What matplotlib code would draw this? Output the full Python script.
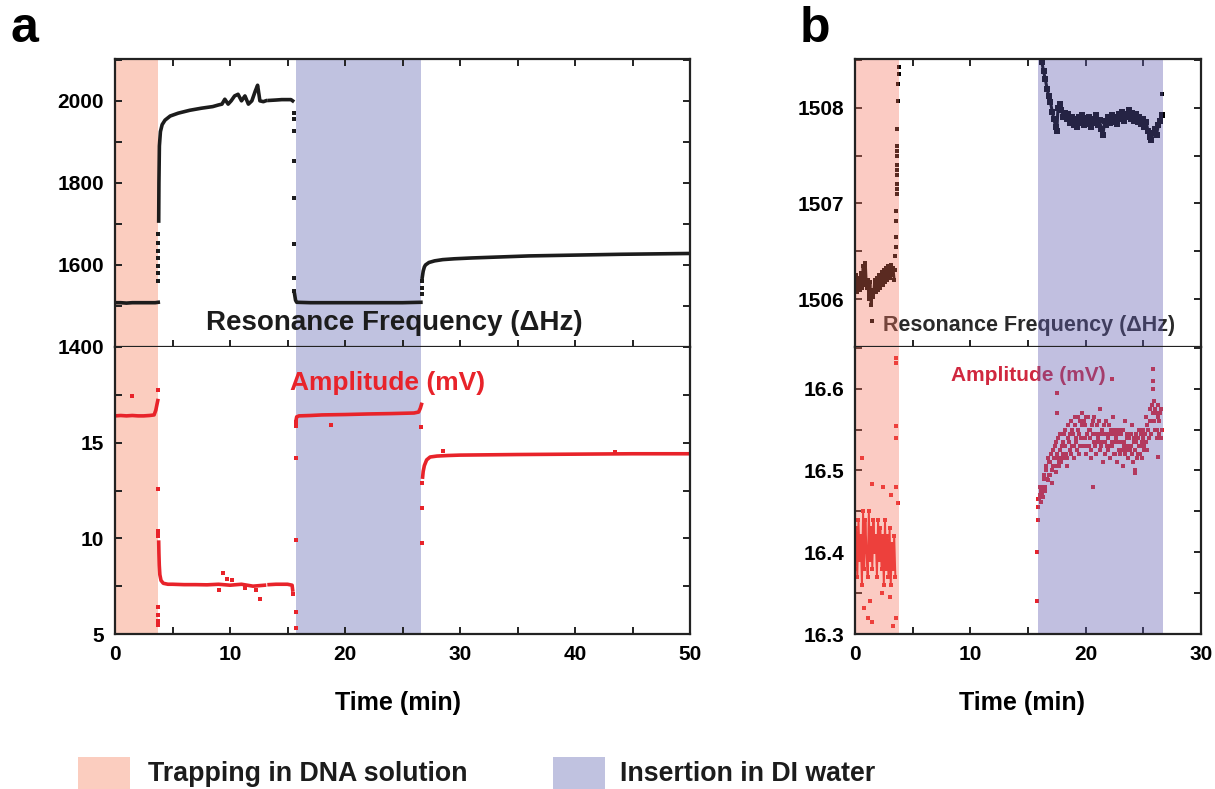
import matplotlib
matplotlib.use('Agg')
import matplotlib.pyplot as plt
from matplotlib.patches import Rectangle
from matplotlib.ticker import MultipleLocator

plt.rcParams['font.family'] = ['Liberation Sans', 'DejaVu Sans']
plt.rcParams['font.weight'] = 'bold'

# ---- shaded intervals (min) ----
a_trap = [0, 3.75]
a_water = [15.75, 26.6]
b_trap = [0, 3.8]
b_water = [15.9, 26.7]

# ---- panel a : resonance frequency (Hz) ----
a_f_base_t = [0, 0.5, 1.0, 1.5, 2.0, 2.5, 3.0, 3.5, 3.76]
a_f_base = [1508, 1508, 1507, 1508, 1508, 1508, 1508, 1508, 1509]
a_f_up_t = [3.78, 3.78, 3.78, 3.78, 3.78, 3.78, 3.78]
a_f_up = [1561, 1580, 1598, 1617, 1634, 1654, 1676]
a_f_rise_t = [3.8, 3.82, 3.86, 3.95, 4.1, 4.35, 4.8, 5.5, 6.5, 7.5,
              8.5, 9.0, 9.3, 9.55, 9.84, 10.1, 10.4, 10.7, 11.0, 11.3,
              11.6, 11.9, 12.2, 12.4, 12.6, 12.9, 13.1]
a_f_rise = [1707, 1800, 1890, 1925, 1942, 1953, 1963, 1970, 1977, 1982,
            1986, 1990, 1992, 2004, 1992, 2000, 2012, 2016, 2000, 2012,
            1992, 2000, 2024, 2038, 2000, 1998, 2000]
a_f_plat_t = [13.4, 14.0, 14.5, 15.0, 15.3, 15.45]
a_f_plat = [2001, 2002, 2003, 2003, 2003, 2000]
a_f_down_t = [15.55, 15.55, 15.56, 15.56, 15.57, 15.57, 15.58, 15.58]
a_f_down = [1971, 1956, 1927, 1854, 1763, 1651, 1568, 1537]
a_f_water_t = [15.62, 15.7, 15.8, 17, 19, 21, 23, 25, 26.6]
a_f_water = [1528, 1514, 1509, 1508, 1508, 1508, 1508, 1508, 1509]
a_f_up2_t = [26.7, 26.7, 26.7]
a_f_up2 = [1529, 1544, 1561]
a_f_tail_t = [26.72, 26.8, 26.9, 27.0, 27.3, 27.8, 28.5, 29.5, 31, 33, 36, 40, 44, 47, 50]
a_f_tail = [1570, 1585, 1595, 1600, 1606, 1610, 1613, 1615, 1617, 1619, 1622, 1624, 1626, 1627, 1628]

# ---- panel a : amplitude (mV) ----
a_a_base_t = [0, 0.5, 1.0, 1.5, 2.0, 2.5, 3.0, 3.4, 3.55, 3.65, 3.72]
a_a_base = [16.4, 16.42, 16.4, 16.42, 16.4, 16.4, 16.42, 16.45, 16.7, 17.0, 17.2]
a_a_drop_t = [3.78, 3.78, 3.78, 3.78, 3.77, 3.77, 3.77, 3.77]
a_a_drop = [12.6, 10.4, 10.25, 10.1, 6.4, 6.0, 5.7, 5.45]
a_a_low_t = [3.8, 3.82, 3.85, 3.9, 4.0, 4.2, 4.6, 5, 6, 7, 8, 9, 10, 11, 12, 13.0]
a_a_low = [9.8, 9.2, 8.6, 8.1, 7.8, 7.65, 7.6, 7.6, 7.58, 7.58, 7.57, 7.6, 7.55, 7.6, 7.5, 7.55]
a_a_low2_t = [13.4, 14, 15, 15.4, 15.45]
a_a_low2 = [7.58, 7.6, 7.6, 7.55, 7.3]
a_a_rise_t = [15.7, 15.7, 15.7, 15.7, 15.72, 15.72]
a_a_rise = [6.17, 5.3, 9.92, 14.2, 15.85, 16.1]
a_a_water_t = [15.75, 15.8, 16, 17, 18, 20, 22, 24, 26, 26.4, 26.55, 26.65]
a_a_water = [16.2, 16.35, 16.4, 16.42, 16.45, 16.47, 16.5, 16.52, 16.55, 16.6, 16.8, 17.0]
a_a_drop2_t = [26.7, 26.7, 26.7, 26.6]
a_a_drop2 = [9.75, 11.6, 12.9, 15.8]
a_a_tail_t = [26.75, 26.8, 26.9, 27.1, 27.4, 28, 29, 30, 35, 40, 45, 50]
a_a_tail = [13.2, 13.5, 13.8, 14.1, 14.25, 14.3, 14.33, 14.35, 14.38, 14.4, 14.42, 14.42]
a_a_out_t = [1.45, 3.72, 9.0, 9.4, 9.7, 10.2, 11.3, 12.3, 12.6, 15.5, 18.8, 28.5, 43.5]
a_a_out = [17.46, 17.77, 7.3, 8.2, 7.9, 7.8, 7.4, 7.3, 6.83, 7.1, 15.94, 14.55, 14.5]

# ---- panel b : resonance frequency (Hz) ----
b_f_trap_t = [0.0, 0.1, 0.2, 0.3, 0.4, 0.5, 0.6, 0.7, 0.8, 0.9,
              1.0, 1.1, 1.2, 1.3, 1.4, 1.5, 1.6, 1.7, 1.8, 1.9,
              2.0, 2.1, 2.2, 2.3, 2.4, 2.5, 2.6, 2.7, 2.8, 2.9,
              3.0, 3.1, 3.2, 3.3, 3.4]
b_f_trap = [1506.15, 1506.25, 1506.08, 1506.22, 1506.10, 1506.27, 1506.12, 1506.35, 1506.15, 1506.38,
            1506.12, 1506.2, 1506.0, 1506.18, 1505.94, 1506.1, 1506.02, 1506.2, 1506.08, 1506.22,
            1506.1, 1506.25, 1506.12, 1506.28, 1506.15, 1506.3, 1506.18, 1506.33, 1506.2, 1506.35,
            1506.22, 1506.36, 1506.25, 1506.33, 1506.2]
b_f_jump_t = [3.45, 3.5, 3.52, 3.54, 3.56, 3.58, 3.6, 3.6, 3.6, 3.6,
              3.6, 3.6, 3.62, 3.62, 3.62, 3.65, 3.7, 3.75, 3.78, 3.8]
b_f_jump = [1506.3, 1506.45, 1506.54, 1506.65, 1506.82, 1506.92, 1507.1, 1507.2, 1507.3, 1507.4,
            1507.5, 1507.6, 1507.15, 1507.35, 1507.55, 1507.78, 1508.07, 1508.25, 1508.35, 1508.43]
b_f_water_t = [16.2, 16.35, 16.5, 16.65, 16.8, 16.95, 17.1, 17.25, 17.4, 17.5,
               17.6, 17.75, 17.9, 18.05, 18.2, 18.35, 18.5, 18.65, 18.8, 18.95,
               19.1, 19.25, 19.4, 19.55, 19.7, 19.85, 20.0, 20.15, 20.3, 20.45,
               20.6, 20.75, 20.9, 21.05, 21.2, 21.35, 21.5, 21.65, 21.8, 21.95,
               22.1, 22.25, 22.4, 22.55, 22.7, 22.85, 23.0, 23.15, 23.3, 23.45,
               23.6, 23.75, 23.9, 24.05, 24.2, 24.35, 24.5, 24.65, 24.8, 24.95,
               25.1, 25.25, 25.4, 25.55, 25.7, 25.85, 26.0, 26.15, 26.3, 26.45, 26.6]
b_f_water = [1508.48, 1508.38, 1508.3, 1508.2, 1508.12, 1508.06, 1507.96, 1507.88, 1507.8, 1507.76,
             1508.0, 1508.04, 1507.98, 1507.9, 1507.95, 1507.88, 1507.94, 1507.84, 1507.9, 1507.82,
             1507.88, 1507.8, 1507.9, 1507.84, 1507.92, 1507.82, 1507.89, 1507.83, 1507.9, 1507.8,
             1507.88, 1507.84, 1507.92, 1507.82, 1507.87, 1507.78, 1507.72, 1507.86, 1507.82, 1507.9,
             1507.84, 1507.92, 1507.85, 1507.9, 1507.83, 1507.94, 1507.88, 1507.96, 1507.86, 1507.94,
             1507.9, 1507.98, 1507.88, 1507.95, 1507.86, 1507.93, 1507.85, 1507.9, 1507.83, 1507.88,
             1507.8, 1507.85, 1507.76, 1507.7, 1507.66, 1507.74, 1507.78, 1507.72, 1507.82, 1507.86, 1507.92]
b_f_out_t = [1.45, 26.6]
b_f_out = [1505.77, 1508.14]

# ---- panel b : amplitude (mV) ----
b_a_trap_t = [0.0, 0.1, 0.2, 0.3, 0.4, 0.5, 0.6, 0.7, 0.8, 0.9,
              1.0, 1.1, 1.2, 1.3, 1.4, 1.5, 1.6, 1.7, 1.8, 1.9,
              2.0, 2.1, 2.2, 2.3, 2.4, 2.5, 2.6, 2.7, 2.8, 2.9,
              3.0, 3.1, 3.2, 3.3, 3.4, 3.5]
b_a_trap = [16.38, 16.43, 16.37, 16.44, 16.39, 16.42, 16.36, 16.45, 16.38, 16.44,
            16.4, 16.37, 16.45, 16.39, 16.43, 16.38, 16.44, 16.4, 16.42, 16.37,
            16.44, 16.39, 16.43, 16.38, 16.42, 16.36, 16.44, 16.38, 16.42, 16.37,
            16.43, 16.36, 16.41, 16.38, 16.42, 16.37]
b_a_trap_out_t = [0.6, 1.45, 2.4, 3.1, 3.55, 3.75, 0.8, 1.1, 1.5, 1.3,
                  2.3, 3.0, 3.3, 3.55, 3.58, 3.58, 3.58, 3.58]
b_a_trap_out = [16.515, 16.483, 16.48, 16.47, 16.48, 16.46, 16.332, 16.32, 16.315, 16.34,
                16.35, 16.345, 16.31, 16.32, 16.638, 16.632, 16.554, 16.54]
b_a_start_t = [15.8, 15.82, 15.85, 15.87]
b_a_start = [16.34, 16.40, 16.44, 16.465]
b_a_water_t = [15.9, 16.0, 16.1, 16.2, 16.3, 16.4, 16.5, 16.6, 16.7, 16.8,
               16.9, 17.0, 17.1, 17.2, 17.3, 17.4, 17.5, 17.6, 17.7, 17.8,
               17.9, 18.0, 18.1, 18.2, 18.3, 18.4, 18.5, 18.6, 18.7, 18.8,
               18.9, 19.0, 19.1, 19.2, 19.3, 19.4, 19.5, 19.6, 19.7, 19.8,
               19.9, 20.0, 20.1, 20.2, 20.3, 20.4, 20.5, 20.6, 20.7, 20.8,
               20.9, 21.0, 21.1, 21.2, 21.3, 21.4, 21.5, 21.6, 21.7, 21.8,
               21.9, 22.0, 22.1, 22.2, 22.3, 22.4, 22.5, 22.6, 22.7, 22.8,
               22.9, 23.0, 23.1, 23.2, 23.3, 23.4, 23.5, 23.6, 23.7, 23.8,
               23.9, 24.0, 24.1, 24.2, 24.3, 24.4, 24.5, 24.6, 24.7, 24.8,
               24.9, 25.0, 25.1, 25.2, 25.3, 25.4, 25.5, 25.6, 25.7, 25.8,
               25.9, 26.0, 26.1, 26.2, 26.3, 26.4, 26.5, 26.6]
b_a_water = [16.455, 16.47, 16.462, 16.48, 16.468, 16.49, 16.475, 16.505, 16.488, 16.51,
             16.495, 16.52, 16.485, 16.505, 16.53, 16.498, 16.515, 16.54, 16.505, 16.525,
             16.51, 16.535, 16.515, 16.55, 16.52, 16.505, 16.54, 16.525, 16.56, 16.53,
             16.545, 16.515, 16.565, 16.535, 16.55, 16.52, 16.56, 16.54, 16.57, 16.53,
             16.555, 16.52, 16.545, 16.565, 16.53, 16.55, 16.515, 16.56, 16.535, 16.545,
             16.52, 16.555, 16.54, 16.575, 16.53, 16.55, 16.51, 16.545, 16.535, 16.56,
             16.525, 16.545, 16.515, 16.55, 16.53, 16.565, 16.52, 16.54, 16.51, 16.535,
             16.55, 16.52, 16.545, 16.505, 16.535, 16.56, 16.525, 16.54, 16.515, 16.545,
             16.53, 16.555, 16.51, 16.54, 16.5, 16.535, 16.52, 16.55, 16.53, 16.545,
             16.515, 16.55, 16.53, 16.565, 16.525, 16.55, 16.54, 16.575, 16.56, 16.6,
             16.585, 16.55, 16.57, 16.54, 16.565, 16.545, 16.575, 16.55]
b_a_water2_t = [15.95, 16.05, 16.15, 16.25, 16.35, 16.45, 16.55, 16.65, 16.75, 16.85,
                16.95, 17.05, 17.15, 17.25, 17.35, 17.45, 17.55, 17.65, 17.75, 17.85,
                17.95, 18.05, 18.15, 18.25, 18.35, 18.45, 18.55, 18.65, 18.75, 18.85,
                18.95, 19.05, 19.15, 19.25, 19.35, 19.45, 19.55, 19.65, 19.75, 19.85,
                19.95, 20.05, 20.15, 20.25, 20.35, 20.45, 20.55, 20.65, 20.75, 20.85,
                20.95, 21.05, 21.15, 21.25, 21.35, 21.45, 21.55, 21.65, 21.75, 21.85,
                21.95, 22.05, 22.15, 22.25, 22.35, 22.45, 22.55, 22.65, 22.75, 22.85,
                22.95, 23.05, 23.15, 23.25, 23.35, 23.45, 23.55, 23.65, 23.75, 23.85,
                23.95, 24.05, 24.15, 24.25, 24.35, 24.45, 24.55, 24.65, 24.75, 24.85,
                24.95, 25.05, 25.15, 25.25, 25.35, 25.45, 25.55, 25.65, 25.75, 25.85,
                25.95, 26.05, 26.15, 26.25, 26.35, 26.45, 26.55]
b_a_water2 = [16.465, 16.48, 16.475, 16.47, 16.495, 16.48, 16.5, 16.49, 16.515, 16.495,
              16.51, 16.5, 16.525, 16.515, 16.505, 16.535, 16.52, 16.51, 16.545, 16.515,
              16.53, 16.52, 16.545, 16.53, 16.515, 16.555, 16.535, 16.545, 16.52, 16.55,
              16.53, 16.555, 16.54, 16.525, 16.565, 16.545, 16.53, 16.555, 16.54, 16.56,
              16.54, 16.565, 16.53, 16.55, 16.54, 16.525, 16.555, 16.545, 16.565, 16.53,
              16.545, 16.535, 16.56, 16.525, 16.545, 16.535, 16.555, 16.52, 16.545, 16.53,
              16.54, 16.555, 16.53, 16.535, 16.545, 16.52, 16.55, 16.535, 16.545, 16.525,
              16.535, 16.545, 16.525, 16.55, 16.53, 16.52, 16.545, 16.53, 16.54, 16.525,
              16.545, 16.52, 16.535, 16.525, 16.545, 16.515, 16.54, 16.53, 16.52, 16.535,
              16.54, 16.525, 16.545, 16.535, 16.555, 16.54, 16.56, 16.545, 16.58, 16.57,
              16.56, 16.575, 16.55, 16.58, 16.56, 16.57, 16.54]
b_a_water_out_t = [17.5, 17.5, 17.06, 20.6, 24.3, 26.3, 22.3, 25.85, 25.85]
b_a_water_out = [16.595, 16.57, 16.485, 16.48, 16.497, 16.517, 16.612, 16.624, 16.61]

PINK = '#FBCDBF'
BLUE = '#C0C2E0'
PINK_OV = '#F6745C'
BLUE_OV = '#615CB1'
BLACK = '#1c1c1c'
RED = '#E8232A'
AXC = '#222222'

W, H = 1215, 789
fig = plt.figure(figsize=(W / 100, H / 100), dpi=100)


def box(l, t, r, b):
    return [l / W, 1 - b / H, (r - l) / W, (b - t) / H]


ax_af = fig.add_axes(box(115, 59, 690, 347))
ax_aa = fig.add_axes(box(115, 347, 690, 634))
ax_bf = fig.add_axes(box(855, 59, 1201, 347))
ax_ba = fig.add_axes(box(855, 347, 1201, 634))


def style(ax, top_panel):
    for s in ax.spines.values():
        s.set_linewidth(1.6)
        s.set_color(AXC)
    ax.tick_params(which='both', direction='in', length=5, width=1.4,
                   color=AXC, labelsize=15, pad=8)
    if top_panel:
        ax.tick_params(which='both', top=True, bottom=True, right=True,
                       labelbottom=False)
    else:
        ax.spines['top'].set_visible(False)
        ax.tick_params(which='both', top=False, right=True)


def line(ax, t, v, c, lw=2.6):
    ax.plot(t, v, '-', color=c, lw=lw, solid_joinstyle='round', zorder=2)


def dots(ax, t, v, c, ms=2.4):
    ax.plot(t, v, 's', color=c, ms=ms, mew=0, zorder=2)


# ---------- panel a ----------
for ax in (ax_af, ax_aa):
    ax.axvspan(*a_trap, color=PINK, lw=0, zorder=0)
    ax.axvspan(*a_water, color=BLUE, lw=0, zorder=0)
    ax.set_xlim(0, 50)
    ax.xaxis.set_major_locator(MultipleLocator(10))
    ax.xaxis.set_minor_locator(MultipleLocator(5))

line(ax_af, a_f_base_t, a_f_base, BLACK)
dots(ax_af, a_f_up_t, a_f_up, BLACK, 3)
line(ax_af, a_f_rise_t, a_f_rise, BLACK)
line(ax_af, a_f_plat_t, a_f_plat, BLACK)
dots(ax_af, a_f_down_t, a_f_down, BLACK, 3)
line(ax_af, a_f_water_t, a_f_water, BLACK)
dots(ax_af, a_f_up2_t, a_f_up2, BLACK, 3)
line(ax_af, a_f_tail_t, a_f_tail, BLACK)
ax_af.set_ylim(1400, 2102)
ax_af.set_yticks([1400, 1600, 1800, 2000])
ax_af.yaxis.set_minor_locator(MultipleLocator(100))
ax_af.text(24.3, 1458, 'Resonance Frequency (\u0394Hz)', ha='center', va='center',
           fontsize=20, color=BLACK, zorder=3)
style(ax_af, True)

line(ax_aa, a_a_base_t, a_a_base, RED)
dots(ax_aa, a_a_drop_t, a_a_drop, RED, 3)
line(ax_aa, a_a_low_t, a_a_low, RED)
line(ax_aa, a_a_low2_t, a_a_low2, RED)
dots(ax_aa, a_a_rise_t, a_a_rise, RED, 3)
line(ax_aa, a_a_water_t, a_a_water, RED)
dots(ax_aa, a_a_drop2_t, a_a_drop2, RED, 3)
line(ax_aa, a_a_tail_t, a_a_tail, RED)
dots(ax_aa, a_a_out_t, a_a_out, RED, 3)
ax_aa.set_ylim(5, 20)
ax_aa.set_yticks([5, 10, 15])
ax_aa.yaxis.set_minor_locator(MultipleLocator(2.5))
ax_aa.text(23.7, 18.1, 'Amplitude (mV)', ha='center', va='center',
           fontsize=19, color=RED, zorder=3)
style(ax_aa, False)

# ---------- panel b ----------
for ax in (ax_bf, ax_ba):
    ax.axvspan(*b_trap, color=PINK_OV, alpha=0.37, lw=0, zorder=2.4)
    ax.axvspan(*b_water, color=BLUE_OV, alpha=0.39, lw=0, zorder=2.4)
    ax.set_xlim(0, 30)
    ax.xaxis.set_major_locator(MultipleLocator(10))
    ax.xaxis.set_minor_locator(MultipleLocator(5))

line(ax_bf, b_f_trap_t, b_f_trap, 'black', 2.0)
dots(ax_bf, b_f_trap_t, b_f_trap, 'black', 3.0)
dots(ax_bf, b_f_jump_t, b_f_jump, 'black', 2.6)
line(ax_bf, b_f_water_t, b_f_water, 'black', 2.2)
dots(ax_bf, b_f_water_t, b_f_water, 'black', 3.8)
dots(ax_bf, b_f_out_t, b_f_out, 'black', 2.6)
ax_bf.set_ylim(1505.5, 1508.51)
ax_bf.set_yticks([1506, 1507, 1508])
ax_bf.yaxis.set_minor_locator(MultipleLocator(0.5))
ax_bf.text(15.1, 1505.72, 'Resonance Frequency (\u0394Hz)', ha='center', va='center',
           fontsize=15.5, color='#2a2a2a', zorder=2.3)
style(ax_bf, True)

line(ax_ba, b_a_trap_t, b_a_trap, RED, 1.4)
dots(ax_ba, b_a_trap_t, b_a_trap, RED, 2.8)
dots(ax_ba, b_a_trap_out_t, b_a_trap_out, RED, 2.6)
dots(ax_ba, b_a_start_t, b_a_start, RED, 2.6)
dots(ax_ba, b_a_water_t, b_a_water, RED, 3.2)
dots(ax_ba, b_a_water2_t, b_a_water2, RED, 3.2)
dots(ax_ba, b_a_water_out_t, b_a_water_out, RED, 2.6)
ax_ba.set_ylim(16.3, 16.651)
ax_ba.set_yticks([16.3, 16.4, 16.5, 16.6])
ax_ba.yaxis.set_minor_locator(MultipleLocator(0.05))
ax_ba.text(15.0, 16.616, 'Amplitude (mV)', ha='center', va='center',
           fontsize=15, color='#D0283F', zorder=2.3)
style(ax_ba, False)

# ---------- figure texts ----------
fig.text(10 / W, 1 - 42 / H, 'a', fontsize=36, va='baseline', ha='left')
fig.text(800 / W, 1 - 42 / H, 'b', fontsize=36, va='baseline', ha='left')
fig.text(398 / W, 1 - 703 / H, 'Time (min)', fontsize=18, ha='center', va='center')
fig.text(1022 / W, 1 - 703 / H, 'Time (min)', fontsize=18, ha='center', va='center')

fig.add_artist(Rectangle((78 / W, 1 - 789 / H), 52 / W, 32 / H,
                         transform=fig.transFigure, color=PINK, lw=0))
fig.text(148 / W, 1 - 774 / H, 'Trapping in DNA solution', fontsize=19.3,
         va='center', ha='left', color=BLACK)
fig.add_artist(Rectangle((553 / W, 1 - 789 / H), 52 / W, 32 / H,
                         transform=fig.transFigure, color=BLUE, lw=0))
fig.text(620 / W, 1 - 774 / H, 'Insertion in DI water', fontsize=19.3,
         va='center', ha='left', color=BLACK)

fig.savefig('out.png', dpi=100)
